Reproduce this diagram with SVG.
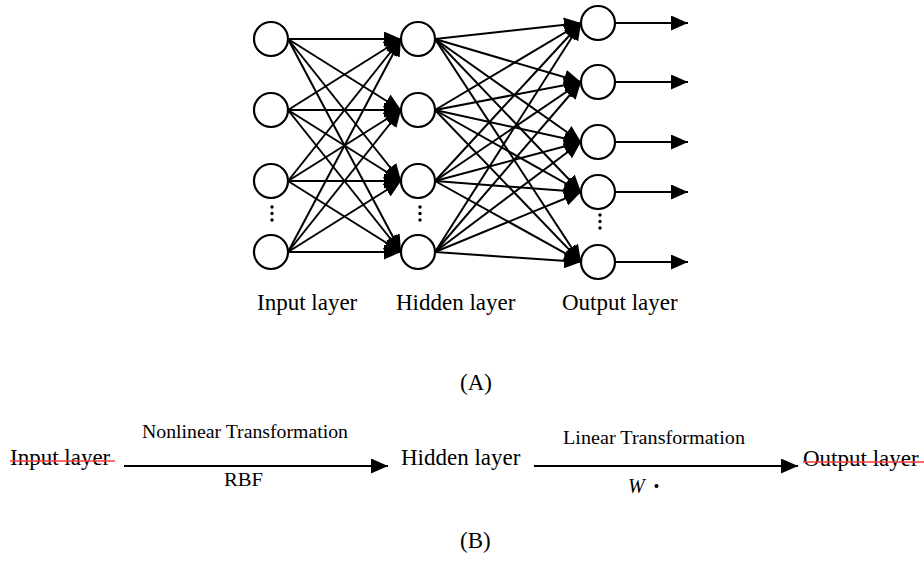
<svg xmlns="http://www.w3.org/2000/svg" width="924" height="576" viewBox="0 0 924 576">
<style>
.n{fill:#fff;stroke:#000;stroke-width:2.2}
.c{stroke:#000;stroke-width:2;fill:none;marker-end:url(#ah)}
.t{font-family:"Liberation Serif","Times New Roman",serif;fill:#000}
.big{font-size:23px}
.sm{font-size:18.5px}
.st{stroke:#ff3b3b;stroke-width:1.6}
.d{fill:#000}
</style>
<defs>
<marker id="ah" markerUnits="userSpaceOnUse" markerWidth="17" markerHeight="15" refX="17" refY="7.5" orient="auto">
<path d="M0,0 L17,7.5 L0,15 z" fill="#000"/>
</marker>
</defs>
<rect width="924" height="576" fill="#fff"/>
<g id="connectors">
<line class="c" x1="288" y1="39" x2="401" y2="39"/>
<line class="c" x1="288" y1="39" x2="401" y2="110"/>
<line class="c" x1="288" y1="39" x2="401" y2="181"/>
<line class="c" x1="288" y1="39" x2="401" y2="252"/>
<line class="c" x1="288" y1="110" x2="401" y2="39"/>
<line class="c" x1="288" y1="110" x2="401" y2="110"/>
<line class="c" x1="288" y1="110" x2="401" y2="181"/>
<line class="c" x1="288" y1="110" x2="401" y2="252"/>
<line class="c" x1="288" y1="181" x2="401" y2="39"/>
<line class="c" x1="288" y1="181" x2="401" y2="110"/>
<line class="c" x1="288" y1="181" x2="401" y2="181"/>
<line class="c" x1="288" y1="181" x2="401" y2="252"/>
<line class="c" x1="288" y1="252" x2="401" y2="39"/>
<line class="c" x1="288" y1="252" x2="401" y2="110"/>
<line class="c" x1="288" y1="252" x2="401" y2="181"/>
<line class="c" x1="288" y1="252" x2="401" y2="252"/>
<line class="c" x1="435" y1="39" x2="581" y2="23"/>
<line class="c" x1="435" y1="39" x2="581" y2="82"/>
<line class="c" x1="435" y1="39" x2="581" y2="142"/>
<line class="c" x1="435" y1="39" x2="581" y2="192"/>
<line class="c" x1="435" y1="39" x2="581" y2="262"/>
<line class="c" x1="435" y1="110" x2="581" y2="23"/>
<line class="c" x1="435" y1="110" x2="581" y2="82"/>
<line class="c" x1="435" y1="110" x2="581" y2="142"/>
<line class="c" x1="435" y1="110" x2="581" y2="192"/>
<line class="c" x1="435" y1="110" x2="581" y2="262"/>
<line class="c" x1="435" y1="181" x2="581" y2="23"/>
<line class="c" x1="435" y1="181" x2="581" y2="82"/>
<line class="c" x1="435" y1="181" x2="581" y2="142"/>
<line class="c" x1="435" y1="181" x2="581" y2="192"/>
<line class="c" x1="435" y1="181" x2="581" y2="262"/>
<line class="c" x1="435" y1="252" x2="581" y2="23"/>
<line class="c" x1="435" y1="252" x2="581" y2="82"/>
<line class="c" x1="435" y1="252" x2="581" y2="142"/>
<line class="c" x1="435" y1="252" x2="581" y2="192"/>
<line class="c" x1="435" y1="252" x2="581" y2="262"/>
<line class="c" x1="615" y1="23" x2="688" y2="23"/>
<line class="c" x1="615" y1="82" x2="688" y2="82"/>
<line class="c" x1="615" y1="142" x2="688" y2="142"/>
<line class="c" x1="615" y1="192" x2="688" y2="192"/>
<line class="c" x1="615" y1="262" x2="688" y2="262"/>
<line class="c" x1="124" y1="466" x2="388" y2="466"/>
<line class="c" x1="534" y1="466" x2="798" y2="466"/>
</g>
<g id="input-layer">
<circle class="n" cx="271" cy="39" r="17"/>
<circle class="n" cx="271" cy="110" r="17"/>
<circle class="n" cx="271" cy="181" r="17"/>
<circle class="n" cx="271" cy="252" r="17"/>
<circle class="d" cx="272" cy="207" r="1.7"/>
<circle class="d" cx="272" cy="213.5" r="1.7"/>
<circle class="d" cx="272" cy="220" r="1.7"/>
</g>
<g id="hidden-layer">
<circle class="n" cx="418" cy="39" r="17"/>
<circle class="n" cx="418" cy="110" r="17"/>
<circle class="n" cx="418" cy="181" r="17"/>
<circle class="n" cx="418" cy="252" r="17"/>
<circle class="d" cx="420" cy="207" r="1.7"/>
<circle class="d" cx="420" cy="213.5" r="1.7"/>
<circle class="d" cx="420" cy="220" r="1.7"/>
</g>
<g id="output-layer">
<circle class="n" cx="598" cy="23" r="17"/>
<circle class="n" cx="598" cy="82" r="17"/>
<circle class="n" cx="598" cy="142" r="17"/>
<circle class="n" cx="598" cy="192" r="17"/>
<circle class="n" cx="598" cy="262" r="17"/>
<circle class="d" cx="600" cy="215" r="1.7"/>
<circle class="d" cx="600" cy="221.5" r="1.7"/>
<circle class="d" cx="600" cy="228" r="1.7"/>
</g>
<g id="labels-a">
<text class="t big" x="257" y="310">Input layer</text>
<text class="t big" x="396" y="310">Hidden layer</text>
<text class="t big" x="562" y="310">Output layer</text>
<text class="t big" x="460" y="390">(A)</text>
</g>
<g id="node-b-input">
<text class="t big" x="10" y="465">Input layer</text>
<line class="st" x1="10" y1="461" x2="115" y2="461"/>
</g>
<g id="node-b-hidden">
<text class="t big" x="401" y="465">Hidden layer</text>
</g>
<g id="node-b-output">
<text class="t big" x="803" y="466">Output layer</text>
<line class="st" x1="803" y1="462" x2="924" y2="462"/>
</g>
<g id="labels-b">
<text class="t sm" x="142" y="438" textLength="206" lengthAdjust="spacingAndGlyphs">Nonlinear Transformation</text>
<text class="t sm" x="224" y="486" textLength="39" lengthAdjust="spacingAndGlyphs">RBF</text>
<text class="t sm" x="563" y="444" textLength="182" lengthAdjust="spacingAndGlyphs">Linear Transformation</text>
<text class="t" x="628" y="493" font-size="20" font-style="italic">W</text>
<circle class="d" cx="656.5" cy="486" r="2"/>
<text class="t big" x="460" y="548">(B)</text>
</g>
</svg>
